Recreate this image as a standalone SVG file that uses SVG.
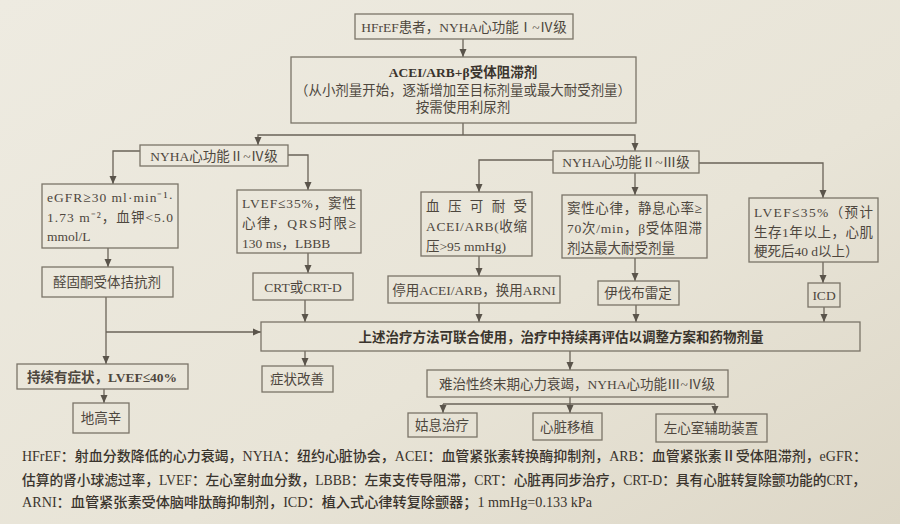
<svg xmlns="http://www.w3.org/2000/svg" width="900" height="524" viewBox="0 0 900 524">
<defs>
<linearGradient id="bg" x1="0" y1="0" x2="1" y2="1">
<stop offset="0" stop-color="#eeebe1"/>
<stop offset="0.6" stop-color="#e8e4d7"/>
<stop offset="1" stop-color="#ddd7c7"/>
</linearGradient>
<marker id="ah" viewBox="0 0 8 8" refX="8" refY="4" markerWidth="8" markerHeight="8" markerUnits="userSpaceOnUse" orient="auto">
<path d="M0,0.5 L8,4 L0,7.5 Z" fill="#5a544b"/>
</marker>
<style>
.box{fill:none;stroke:#7a7468;stroke-width:1.3}
.c{fill:none;stroke:#6a6358;stroke-width:1.3;marker-end:url(#ah)}
.l{fill:none;stroke:#6a6358;stroke-width:1.3}
.t{font-family:"Liberation Serif","Noto Sans CJK SC",serif;font-size:13.5px;fill:#4e473e}
.m{text-anchor:middle;dominant-baseline:central}
.b{font-weight:bold;fill:#3a342d}
.lg{font-family:"Liberation Serif","Noto Sans CJK SC",serif;font-size:14px;fill:#3a342d;font-weight:500}
</style>
</defs>
<rect width="900" height="524" fill="url(#bg)"/>

<g id="connectors">
<line class="c" x1="463" y1="39" x2="463" y2="57"/>
<polyline class="l" points="463,123 463,135"/>
<polyline class="c" points="463,135 258,135 258,145"/>
<polyline class="c" points="463,135 635,135 635,151"/>
<polyline class="c" points="140,151 113,151 113,184"/>
<polyline class="c" points="288,155 308,155 308,190"/>
<line class="c" x1="108" y1="248" x2="108" y2="267"/>
<line class="c" x1="308" y1="253" x2="308" y2="273"/>
<polyline class="c" points="553,160 479,160 479,192"/>
<line class="c" x1="635" y1="173" x2="635" y2="195"/>
<polyline class="c" points="699,163 823,163 823,198"/>
<line class="c" x1="479" y1="256" x2="479" y2="276"/>
<line class="c" x1="635" y1="258" x2="635" y2="281"/>
<line class="c" x1="823" y1="262" x2="823" y2="283"/>
<line class="c" x1="305" y1="300" x2="305" y2="322"/>
<line class="c" x1="479" y1="303" x2="479" y2="322"/>
<line class="c" x1="636" y1="305" x2="636" y2="322"/>
<line class="c" x1="824" y1="307" x2="824" y2="322"/>
<line class="c" x1="106" y1="297" x2="106" y2="364"/>
<line class="c" x1="106" y1="332" x2="261" y2="332"/>
<line class="c" x1="104" y1="389" x2="104" y2="403"/>
<line class="c" x1="305" y1="351" x2="305" y2="366"/>
<line class="c" x1="570" y1="351" x2="570" y2="370"/>
<line class="l" x1="570" y1="397" x2="570" y2="404"/>
<line class="l" x1="443" y1="404" x2="715" y2="404"/>
<line class="c" x1="443" y1="404" x2="443" y2="413"/>
<line class="c" x1="570" y1="404" x2="570" y2="413"/>
<line class="c" x1="715" y1="404" x2="715" y2="414"/>
</g>

<g id="n_start">
<rect class="box" x="355" y="14" width="218" height="25"/>
<text class="t m" x="464" y="27">HFrEF患者，NYHA心功能Ⅰ~Ⅳ级</text>
</g>
<g id="n_acei">
<rect class="box" x="291" y="57" width="345" height="66"/>
<text class="t m b" x="463" y="72" font-size="14.5">ACEI/ARB+β受体阻滞剂</text>
<text class="t m" x="463" y="90" textLength="336" lengthAdjust="spacingAndGlyphs">（从小剂量开始，逐渐增加至目标剂量或最大耐受剂量）</text>
<text class="t m" x="463" y="107">按需使用利尿剂</text>
</g>
<g id="n_nyha24">
<rect class="box" x="140" y="145" width="148" height="21"/>
<text class="t m" x="214" y="156">NYHA心功能Ⅱ~Ⅳ级</text>
</g>
<g id="n_egfr">
<rect class="box" x="42" y="184" width="136" height="64"/>
<text class="t" x="47" y="202" textLength="126" lengthAdjust="spacing">eGFR≥30 ml·min⁻¹·</text>
<text class="t" x="47" y="222" textLength="126" lengthAdjust="spacing">1.73 m⁻²，血钾&lt;5.0</text>
<text class="t" x="47" y="241">mmol/L</text>
</g>
<g id="n_lvef_crt">
<rect class="box" x="237" y="190" width="124" height="63"/>
<text class="t" x="242" y="208" textLength="114" lengthAdjust="spacing">LVEF≤35%，窦性</text>
<text class="t" x="242" y="228" textLength="114" lengthAdjust="spacing">心律，QRS时限≥</text>
<text class="t" x="242" y="248">130 ms，LBBB</text>
</g>
<g id="n_aldo">
<rect class="box" x="42" y="267" width="131" height="30"/>
<text class="t m" x="107" y="282">醛固酮受体拮抗剂</text>
</g>
<g id="n_crt">
<rect class="box" x="253" y="273" width="100" height="27"/>
<text class="t m" x="303" y="287">CRT或CRT-D</text>
</g>
<g id="n_nyha23">
<rect class="box" x="553" y="151" width="146" height="22"/>
<text class="t m" x="626" y="162">NYHA心功能Ⅱ~Ⅲ级</text>
</g>
<g id="n_bp">
<rect class="box" x="421" y="192" width="111" height="64"/>
<text class="t" x="426" y="211" textLength="101" lengthAdjust="spacing">血压可耐受</text>
<text class="t" x="426" y="231" textLength="101" lengthAdjust="spacing">ACEI/ARB(收缩</text>
<text class="t" x="426" y="251">压&gt;95 mmHg)</text>
</g>
<g id="n_sinus">
<rect class="box" x="562" y="195" width="145" height="63"/>
<text class="t" x="567" y="213" textLength="135" lengthAdjust="spacing">窦性心律，静息心率≥</text>
<text class="t" x="567" y="233" textLength="135" lengthAdjust="spacing">70次/min，β受体阻滞</text>
<text class="t" x="567" y="253">剂达最大耐受剂量</text>
</g>
<g id="n_lvef_icd">
<rect class="box" x="749" y="198" width="129" height="64"/>
<text class="t" x="754" y="217" textLength="119" lengthAdjust="spacing">LVEF≤35%（预计</text>
<text class="t" x="754" y="237" textLength="119" lengthAdjust="spacing">生存1年以上，心肌</text>
<text class="t" x="754" y="256">梗死后40 d以上）</text>
</g>
<g id="n_arni">
<rect class="box" x="388" y="276" width="172" height="27"/>
<text class="t m" x="474" y="290">停用ACEI/ARB，换用ARNI</text>
</g>
<g id="n_ivab">
<rect class="box" x="598" y="281" width="81" height="24"/>
<text class="t m" x="638" y="293">伊伐布雷定</text>
</g>
<g id="n_icd">
<rect class="box" x="808" y="283" width="32" height="24"/>
<text class="t m" x="824" y="295">ICD</text>
</g>
<g id="n_combine">
<rect class="box" x="261" y="322" width="599" height="29"/>
<text class="t m b" x="561" y="337" font-size="14.5">上述治疗方法可联合使用，治疗中持续再评估以调整方案和药物剂量</text>
</g>
<g id="n_persist">
<rect class="box" x="17" y="364" width="171" height="25"/>
<text class="t m" x="102" y="377" font-weight="600" fill="#3e3832">持续有症状，LVEF≤40%</text>
</g>
<g id="n_digoxin">
<rect class="box" x="73" y="403" width="56" height="30"/>
<text class="t m" x="101" y="418">地高辛</text>
</g>
<g id="n_improve">
<rect class="box" x="262" y="366" width="71" height="26"/>
<text class="t m" x="297" y="379">症状改善</text>
</g>
<g id="n_refractory">
<rect class="box" x="427" y="370" width="301" height="27"/>
<text class="t m" x="577" y="384">难治性终末期心力衰竭，NYHA心功能Ⅲ~Ⅳ级</text>
</g>
<g id="n_palliative">
<rect class="box" x="408" y="413" width="69" height="24"/>
<text class="t m" x="442" y="425">姑息治疗</text>
</g>
<g id="n_transplant">
<rect class="box" x="533" y="413" width="69" height="27"/>
<text class="t m" x="567" y="427">心脏移植</text>
</g>
<g id="n_lvad">
<rect class="box" x="656" y="414" width="111" height="28"/>
<text class="t m" x="711" y="428">左心室辅助装置</text>
</g>

<g id="legend">
<text class="lg" x="22" y="461" textLength="845" lengthAdjust="spacingAndGlyphs">HFrEF：射血分数降低的心力衰竭，NYHA：纽约心脏协会，ACEI：血管紧张素转换酶抑制剂，ARB：血管紧张素Ⅱ受体阻滞剂，eGFR：</text>
<text class="lg" x="22" y="485" textLength="844" lengthAdjust="spacingAndGlyphs">估算的肾小球滤过率，LVEF：左心室射血分数，LBBB：左束支传导阻滞，CRT：心脏再同步治疗，CRT-D：具有心脏转复除颤功能的CRT，</text>
<text class="lg" x="22" y="507" textLength="570" lengthAdjust="spacingAndGlyphs">ARNI：血管紧张素受体脑啡肽酶抑制剂，ICD：植入式心律转复除颤器；1 mmHg=0.133 kPa</text>
</g>
</svg>
